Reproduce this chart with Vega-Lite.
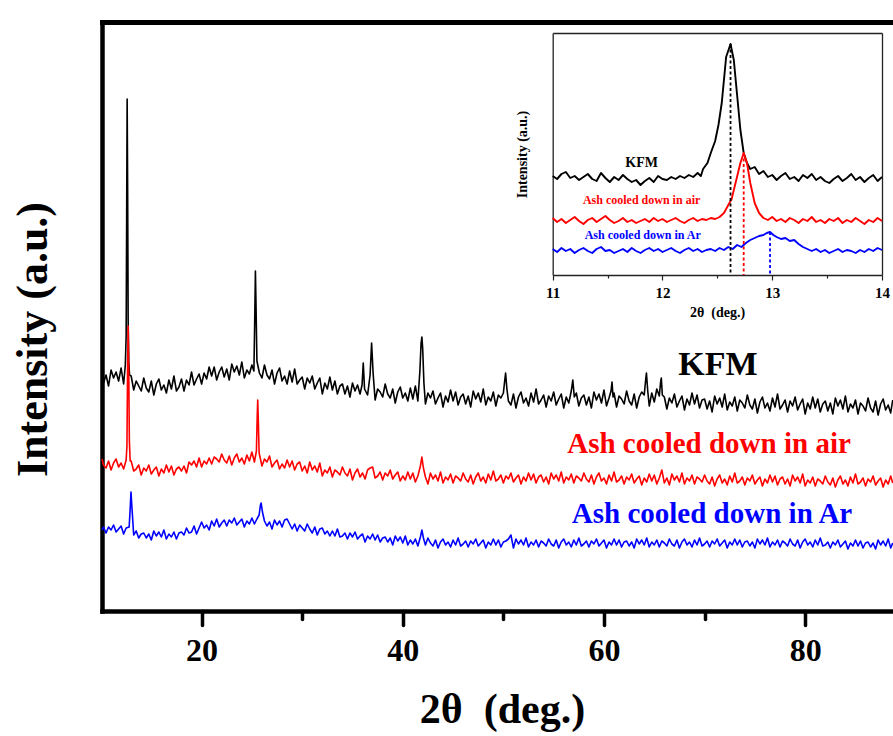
{
  "$schema": "https://vega.github.io/schema/vega-lite/v6.json",
  "width": 791,
  "height": 589,
  "autosize": {"type": "none"},
  "padding": {"left": 102, "top": 22, "right": 0, "bottom": 125},
  "background": "white",
  "config": {
    "view": {"stroke": null},
    "font": "Liberation Serif",
    "axis": {"labelFont": "Liberation Serif", "titleFont": "Liberation Serif", "grid": false},
    "text": {"font": "Liberation Serif"}
  },
  "datasets": {
    "xrd": [
      {"s":"K","x":10.1,"y":238},{"s":"K","x":10.25,"y":228},{"s":"K","x":10.5,"y":236},{"s":"K","x":10.75,"y":225},{"s":"K","x":11.0,"y":241},{"s":"K","x":11.25,"y":233},{"s":"K","x":11.5,"y":239},{"s":"K","x":11.75,"y":230},{"s":"K","x":12.0,"y":243},{"s":"K","x":12.25,"y":227},{"s":"K","x":12.42,"y":246},{"s":"K","x":12.5,"y":275},{"s":"K","x":12.55,"y":390},{"s":"K","x":12.6,"y":512},{"s":"K","x":12.65,"y":420},{"s":"K","x":12.7,"y":290},{"s":"K","x":12.76,"y":250},{"s":"K","x":12.84,"y":236},{"s":"K","x":13.0,"y":235},{"s":"K","x":13.25,"y":221},{"s":"K","x":13.5,"y":230},{"s":"K","x":13.75,"y":225},{"s":"K","x":14.0,"y":220},{"s":"K","x":14.25,"y":233},{"s":"K","x":14.5,"y":223},{"s":"K","x":14.75,"y":219},{"s":"K","x":15.0,"y":230},{"s":"K","x":15.25,"y":216},{"s":"K","x":15.5,"y":227},{"s":"K","x":15.75,"y":232},{"s":"K","x":16.0,"y":221},{"s":"K","x":16.25,"y":226},{"s":"K","x":16.5,"y":218},{"s":"K","x":16.75,"y":231},{"s":"K","x":17.0,"y":222},{"s":"K","x":17.25,"y":235},{"s":"K","x":17.5,"y":220},{"s":"K","x":17.75,"y":224},{"s":"K","x":18.0,"y":232},{"s":"K","x":18.25,"y":220},{"s":"K","x":18.5,"y":231},{"s":"K","x":18.75,"y":226},{"s":"K","x":19.0,"y":239},{"s":"K","x":19.25,"y":226},{"s":"K","x":19.5,"y":232},{"s":"K","x":19.75,"y":237},{"s":"K","x":20.0,"y":227},{"s":"K","x":20.25,"y":238},{"s":"K","x":20.5,"y":232},{"s":"K","x":20.75,"y":244},{"s":"K","x":21.0,"y":235},{"s":"K","x":21.25,"y":244},{"s":"K","x":21.5,"y":231},{"s":"K","x":21.75,"y":239},{"s":"K","x":22.0,"y":244},{"s":"K","x":22.25,"y":234},{"s":"K","x":22.5,"y":242},{"s":"K","x":22.75,"y":231},{"s":"K","x":23.0,"y":247},{"s":"K","x":23.25,"y":239},{"s":"K","x":23.5,"y":245},{"s":"K","x":23.75,"y":236},{"s":"K","x":24.0,"y":249},{"s":"K","x":24.25,"y":233},{"s":"K","x":24.5,"y":241},{"s":"K","x":24.75,"y":237},{"s":"K","x":25.0,"y":246},{"s":"K","x":25.2,"y":240},{"s":"K","x":25.28,"y":290},{"s":"K","x":25.35,"y":340},{"s":"K","x":25.42,"y":300},{"s":"K","x":25.5,"y":250},{"s":"K","x":25.75,"y":238},{"s":"K","x":26.0,"y":233},{"s":"K","x":26.25,"y":246},{"s":"K","x":26.5,"y":236},{"s":"K","x":26.75,"y":232},{"s":"K","x":27.0,"y":241},{"s":"K","x":27.25,"y":227},{"s":"K","x":27.5,"y":238},{"s":"K","x":27.75,"y":243},{"s":"K","x":28.0,"y":230},{"s":"K","x":28.25,"y":235},{"s":"K","x":28.5,"y":227},{"s":"K","x":28.75,"y":240},{"s":"K","x":29.0,"y":229},{"s":"K","x":29.25,"y":242},{"s":"K","x":29.5,"y":227},{"s":"K","x":29.75,"y":231},{"s":"K","x":30.0,"y":234},{"s":"K","x":30.25,"y":222},{"s":"K","x":30.5,"y":233},{"s":"K","x":30.75,"y":228},{"s":"K","x":31.0,"y":235},{"s":"K","x":31.25,"y":222},{"s":"K","x":31.5,"y":228},{"s":"K","x":31.75,"y":233},{"s":"K","x":32.0,"y":217},{"s":"K","x":32.25,"y":228},{"s":"K","x":32.5,"y":222},{"s":"K","x":32.75,"y":234},{"s":"K","x":33.0,"y":221},{"s":"K","x":33.25,"y":230},{"s":"K","x":33.5,"y":217},{"s":"K","x":33.75,"y":225},{"s":"K","x":34.0,"y":227},{"s":"K","x":34.25,"y":217},{"s":"K","x":34.5,"y":225},{"s":"K","x":34.75,"y":214},{"s":"K","x":35.0,"y":228},{"s":"K","x":35.25,"y":220},{"s":"K","x":35.5,"y":226},{"s":"K","x":35.75,"y":217},{"s":"K","x":35.95,"y":226},{"s":"K","x":36.07,"y":248},{"s":"K","x":36.2,"y":222},{"s":"K","x":36.5,"y":216},{"s":"K","x":36.75,"y":236},{"s":"K","x":36.9,"y":268},{"s":"K","x":37.05,"y":238},{"s":"K","x":37.25,"y":211},{"s":"K","x":37.5,"y":222},{"s":"K","x":37.75,"y":219},{"s":"K","x":38.0,"y":214},{"s":"K","x":38.25,"y":227},{"s":"K","x":38.5,"y":217},{"s":"K","x":38.75,"y":213},{"s":"K","x":39.0,"y":222},{"s":"K","x":39.25,"y":208},{"s":"K","x":39.5,"y":219},{"s":"K","x":39.75,"y":224},{"s":"K","x":40.0,"y":213},{"s":"K","x":40.25,"y":218},{"s":"K","x":40.5,"y":210},{"s":"K","x":40.75,"y":223},{"s":"K","x":41.0,"y":212},{"s":"K","x":41.25,"y":225},{"s":"K","x":41.5,"y":210},{"s":"K","x":41.7,"y":240},{"s":"K","x":41.82,"y":268},{"s":"K","x":41.9,"y":274},{"s":"K","x":41.98,"y":262},{"s":"K","x":42.1,"y":228},{"s":"K","x":42.25,"y":207},{"s":"K","x":42.5,"y":218},{"s":"K","x":42.75,"y":213},{"s":"K","x":43.0,"y":220},{"s":"K","x":43.25,"y":207},{"s":"K","x":43.5,"y":213},{"s":"K","x":43.75,"y":218},{"s":"K","x":44.0,"y":204},{"s":"K","x":44.25,"y":215},{"s":"K","x":44.5,"y":209},{"s":"K","x":44.75,"y":221},{"s":"K","x":45.0,"y":210},{"s":"K","x":45.25,"y":219},{"s":"K","x":45.5,"y":206},{"s":"K","x":45.75,"y":214},{"s":"K","x":46.0,"y":217},{"s":"K","x":46.25,"y":207},{"s":"K","x":46.5,"y":215},{"s":"K","x":46.75,"y":204},{"s":"K","x":47.0,"y":220},{"s":"K","x":47.25,"y":212},{"s":"K","x":47.5,"y":218},{"s":"K","x":47.75,"y":209},{"s":"K","x":48.0,"y":222},{"s":"K","x":48.25,"y":206},{"s":"K","x":48.5,"y":214},{"s":"K","x":48.75,"y":210},{"s":"K","x":49.0,"y":219},{"s":"K","x":49.25,"y":205},{"s":"K","x":49.5,"y":216},{"s":"K","x":49.75,"y":213},{"s":"K","x":50.0,"y":218},{"s":"K","x":50.15,"y":232},{"s":"K","x":50.22,"y":238},{"s":"K","x":50.35,"y":222},{"s":"K","x":50.5,"y":210},{"s":"K","x":50.75,"y":206},{"s":"K","x":51.0,"y":217},{"s":"K","x":51.25,"y":203},{"s":"K","x":51.5,"y":214},{"s":"K","x":51.75,"y":219},{"s":"K","x":52.0,"y":208},{"s":"K","x":52.25,"y":213},{"s":"K","x":52.5,"y":205},{"s":"K","x":52.75,"y":218},{"s":"K","x":53.0,"y":209},{"s":"K","x":53.25,"y":222},{"s":"K","x":53.5,"y":207},{"s":"K","x":53.75,"y":211},{"s":"K","x":54.0,"y":216},{"s":"K","x":54.25,"y":204},{"s":"K","x":54.5,"y":215},{"s":"K","x":54.75,"y":210},{"s":"K","x":55.0,"y":219},{"s":"K","x":55.25,"y":206},{"s":"K","x":55.5,"y":212},{"s":"K","x":55.75,"y":217},{"s":"K","x":56.0,"y":203},{"s":"K","x":56.25,"y":214},{"s":"K","x":56.5,"y":208},{"s":"K","x":56.75,"y":220},{"s":"K","x":56.9,"y":231},{"s":"K","x":57.05,"y":214},{"s":"K","x":57.25,"y":218},{"s":"K","x":57.5,"y":205},{"s":"K","x":57.75,"y":213},{"s":"K","x":58.0,"y":216},{"s":"K","x":58.25,"y":206},{"s":"K","x":58.5,"y":214},{"s":"K","x":58.75,"y":203},{"s":"K","x":59.0,"y":219},{"s":"K","x":59.25,"y":211},{"s":"K","x":59.5,"y":217},{"s":"K","x":59.75,"y":208},{"s":"K","x":60.0,"y":221},{"s":"K","x":60.25,"y":205},{"s":"K","x":60.5,"y":213},{"s":"K","x":60.7,"y":220},{"s":"K","x":60.8,"y":229},{"s":"K","x":60.9,"y":214},{"s":"K","x":61.0,"y":218},{"s":"K","x":61.25,"y":204},{"s":"K","x":61.5,"y":215},{"s":"K","x":61.75,"y":212},{"s":"K","x":62.0,"y":207},{"s":"K","x":62.25,"y":220},{"s":"K","x":62.5,"y":210},{"s":"K","x":62.75,"y":206},{"s":"K","x":63.0,"y":217},{"s":"K","x":63.25,"y":203},{"s":"K","x":63.5,"y":214},{"s":"K","x":63.75,"y":219},{"s":"K","x":64.0,"y":216},{"s":"K","x":64.15,"y":232},{"s":"K","x":64.22,"y":238},{"s":"K","x":64.35,"y":220},{"s":"K","x":64.5,"y":205},{"s":"K","x":64.75,"y":218},{"s":"K","x":65.0,"y":209},{"s":"K","x":65.25,"y":222},{"s":"K","x":65.5,"y":215},{"s":"K","x":65.62,"y":228},{"s":"K","x":65.7,"y":233},{"s":"K","x":65.8,"y":216},{"s":"K","x":66.0,"y":214},{"s":"K","x":66.25,"y":202},{"s":"K","x":66.5,"y":213},{"s":"K","x":66.75,"y":208},{"s":"K","x":67.0,"y":217},{"s":"K","x":67.25,"y":204},{"s":"K","x":67.5,"y":210},{"s":"K","x":67.75,"y":215},{"s":"K","x":68.0,"y":201},{"s":"K","x":68.25,"y":212},{"s":"K","x":68.5,"y":206},{"s":"K","x":68.75,"y":218},{"s":"K","x":69.0,"y":207},{"s":"K","x":69.25,"y":216},{"s":"K","x":69.5,"y":203},{"s":"K","x":69.75,"y":211},{"s":"K","x":70.0,"y":212},{"s":"K","x":70.25,"y":202},{"s":"K","x":70.5,"y":210},{"s":"K","x":70.75,"y":199},{"s":"K","x":71.0,"y":215},{"s":"K","x":71.25,"y":207},{"s":"K","x":71.5,"y":213},{"s":"K","x":71.75,"y":204},{"s":"K","x":72.0,"y":217},{"s":"K","x":72.25,"y":201},{"s":"K","x":72.5,"y":209},{"s":"K","x":72.75,"y":205},{"s":"K","x":73.0,"y":214},{"s":"K","x":73.25,"y":200},{"s":"K","x":73.5,"y":211},{"s":"K","x":73.75,"y":208},{"s":"K","x":74.0,"y":203},{"s":"K","x":74.25,"y":216},{"s":"K","x":74.5,"y":206},{"s":"K","x":74.75,"y":202},{"s":"K","x":75.0,"y":212},{"s":"K","x":75.25,"y":198},{"s":"K","x":75.5,"y":209},{"s":"K","x":75.75,"y":214},{"s":"K","x":76.0,"y":203},{"s":"K","x":76.25,"y":208},{"s":"K","x":76.5,"y":200},{"s":"K","x":76.75,"y":213},{"s":"K","x":77.0,"y":204},{"s":"K","x":77.25,"y":217},{"s":"K","x":77.5,"y":202},{"s":"K","x":77.75,"y":206},{"s":"K","x":78.0,"y":211},{"s":"K","x":78.25,"y":199},{"s":"K","x":78.5,"y":210},{"s":"K","x":78.75,"y":205},{"s":"K","x":79.0,"y":214},{"s":"K","x":79.25,"y":201},{"s":"K","x":79.5,"y":207},{"s":"K","x":79.75,"y":212},{"s":"K","x":80.0,"y":197},{"s":"K","x":80.25,"y":208},{"s":"K","x":80.5,"y":202},{"s":"K","x":80.75,"y":214},{"s":"K","x":81.0,"y":203},{"s":"K","x":81.25,"y":212},{"s":"K","x":81.5,"y":199},{"s":"K","x":81.75,"y":207},{"s":"K","x":82.0,"y":210},{"s":"K","x":82.25,"y":200},{"s":"K","x":82.5,"y":208},{"s":"K","x":82.75,"y":197},{"s":"K","x":83.0,"y":213},{"s":"K","x":83.25,"y":205},{"s":"K","x":83.5,"y":211},{"s":"K","x":83.75,"y":202},{"s":"K","x":84.0,"y":215},{"s":"K","x":84.25,"y":199},{"s":"K","x":84.5,"y":207},{"s":"K","x":84.75,"y":203},{"s":"K","x":85.0,"y":211},{"s":"K","x":85.25,"y":197},{"s":"K","x":85.5,"y":208},{"s":"K","x":85.75,"y":205},{"s":"K","x":86.0,"y":200},{"s":"K","x":86.25,"y":213},{"s":"K","x":86.5,"y":203},{"s":"K","x":86.75,"y":199},{"s":"K","x":87.0,"y":210},{"s":"K","x":87.25,"y":196},{"s":"K","x":87.5,"y":207},{"s":"K","x":87.75,"y":212},{"s":"K","x":88.0,"y":201},{"s":"K","x":88.25,"y":206},{"s":"K","x":88.5,"y":198},{"s":"K","x":88.7,"y":211},

      {"s":"air","x":10.1,"y":152},{"s":"air","x":10.25,"y":146},{"s":"air","x":10.5,"y":143},{"s":"air","x":10.75,"y":150},{"s":"air","x":11.0,"y":141},{"s":"air","x":11.25,"y":148},{"s":"air","x":11.5,"y":152},{"s":"air","x":11.75,"y":144},{"s":"air","x":12.0,"y":148},{"s":"air","x":12.25,"y":142},{"s":"air","x":12.5,"y":151},{"s":"air","x":12.58,"y":165},{"s":"air","x":12.64,"y":240},{"s":"air","x":12.7,"y":285},{"s":"air","x":12.76,"y":240},{"s":"air","x":12.82,"y":170},{"s":"air","x":12.9,"y":150},{"s":"air","x":13.0,"y":150},{"s":"air","x":13.25,"y":140},{"s":"air","x":13.5,"y":142},{"s":"air","x":13.75,"y":146},{"s":"air","x":14.0,"y":136},{"s":"air","x":14.25,"y":143},{"s":"air","x":14.5,"y":140},{"s":"air","x":14.75,"y":146},{"s":"air","x":15.0,"y":137},{"s":"air","x":15.25,"y":141},{"s":"air","x":15.5,"y":144},{"s":"air","x":15.75,"y":135},{"s":"air","x":16.0,"y":142},{"s":"air","x":16.25,"y":138},{"s":"air","x":16.5,"y":146},{"s":"air","x":16.75,"y":139},{"s":"air","x":17.0,"y":145},{"s":"air","x":17.25,"y":136},{"s":"air","x":17.5,"y":142},{"s":"air","x":17.75,"y":144},{"s":"air","x":18.0,"y":140},{"s":"air","x":18.25,"y":145},{"s":"air","x":18.5,"y":138},{"s":"air","x":18.75,"y":149},{"s":"air","x":19.0,"y":146},{"s":"air","x":19.25,"y":150},{"s":"air","x":19.5,"y":144},{"s":"air","x":19.75,"y":153},{"s":"air","x":20.0,"y":144},{"s":"air","x":20.25,"y":150},{"s":"air","x":20.5,"y":147},{"s":"air","x":20.75,"y":153},{"s":"air","x":21.0,"y":147},{"s":"air","x":21.25,"y":154},{"s":"air","x":21.5,"y":152},{"s":"air","x":21.75,"y":149},{"s":"air","x":22.0,"y":157},{"s":"air","x":22.25,"y":151},{"s":"air","x":22.5,"y":148},{"s":"air","x":22.75,"y":155},{"s":"air","x":23.0,"y":146},{"s":"air","x":23.25,"y":153},{"s":"air","x":23.5,"y":157},{"s":"air","x":23.75,"y":149},{"s":"air","x":24.0,"y":153},{"s":"air","x":24.25,"y":147},{"s":"air","x":24.5,"y":156},{"s":"air","x":24.75,"y":150},{"s":"air","x":25.0,"y":159},{"s":"air","x":25.25,"y":149},{"s":"air","x":25.45,"y":160},{"s":"air","x":25.53,"y":195},{"s":"air","x":25.58,"y":211},{"s":"air","x":25.64,"y":190},{"s":"air","x":25.72,"y":158},{"s":"air","x":26.0,"y":145},{"s":"air","x":26.25,"y":152},{"s":"air","x":26.5,"y":149},{"s":"air","x":26.75,"y":155},{"s":"air","x":27.0,"y":144},{"s":"air","x":27.25,"y":148},{"s":"air","x":27.5,"y":151},{"s":"air","x":27.75,"y":142},{"s":"air","x":28.0,"y":147},{"s":"air","x":28.25,"y":143},{"s":"air","x":28.5,"y":151},{"s":"air","x":28.75,"y":144},{"s":"air","x":29.0,"y":150},{"s":"air","x":29.25,"y":141},{"s":"air","x":29.5,"y":147},{"s":"air","x":29.75,"y":149},{"s":"air","x":30.0,"y":140},{"s":"air","x":30.25,"y":145},{"s":"air","x":30.5,"y":138},{"s":"air","x":30.75,"y":149},{"s":"air","x":31.0,"y":141},{"s":"air","x":31.25,"y":145},{"s":"air","x":31.5,"y":139},{"s":"air","x":31.75,"y":148},{"s":"air","x":32.0,"y":135},{"s":"air","x":32.25,"y":141},{"s":"air","x":32.5,"y":138},{"s":"air","x":32.75,"y":144},{"s":"air","x":33.0,"y":134},{"s":"air","x":33.25,"y":141},{"s":"air","x":33.5,"y":139},{"s":"air","x":33.75,"y":136},{"s":"air","x":34.0,"y":144},{"s":"air","x":34.25,"y":138},{"s":"air","x":34.5,"y":135},{"s":"air","x":34.75,"y":142},{"s":"air","x":35.0,"y":131},{"s":"air","x":35.25,"y":138},{"s":"air","x":35.5,"y":142},{"s":"air","x":35.75,"y":134},{"s":"air","x":36.0,"y":138},{"s":"air","x":36.25,"y":132},{"s":"air","x":36.5,"y":141},{"s":"air","x":36.75,"y":143},{"s":"air","x":37.0,"y":144},{"s":"air","x":37.25,"y":133},{"s":"air","x":37.5,"y":135},{"s":"air","x":37.75,"y":139},{"s":"air","x":38.0,"y":131},{"s":"air","x":38.25,"y":138},{"s":"air","x":38.5,"y":135},{"s":"air","x":38.75,"y":141},{"s":"air","x":39.0,"y":132},{"s":"air","x":39.25,"y":136},{"s":"air","x":39.5,"y":139},{"s":"air","x":39.75,"y":130},{"s":"air","x":40.0,"y":135},{"s":"air","x":40.25,"y":131},{"s":"air","x":40.5,"y":139},{"s":"air","x":40.75,"y":132},{"s":"air","x":41.0,"y":138},{"s":"air","x":41.25,"y":129},{"s":"air","x":41.5,"y":135},{"s":"air","x":41.75,"y":145},{"s":"air","x":41.9,"y":154},{"s":"air","x":42.05,"y":143},{"s":"air","x":42.25,"y":134},{"s":"air","x":42.5,"y":127},{"s":"air","x":42.75,"y":138},{"s":"air","x":43.0,"y":132},{"s":"air","x":43.25,"y":136},{"s":"air","x":43.5,"y":130},{"s":"air","x":43.75,"y":139},{"s":"air","x":44.0,"y":128},{"s":"air","x":44.25,"y":134},{"s":"air","x":44.5,"y":131},{"s":"air","x":44.75,"y":137},{"s":"air","x":45.0,"y":128},{"s":"air","x":45.25,"y":135},{"s":"air","x":45.5,"y":133},{"s":"air","x":45.75,"y":130},{"s":"air","x":46.0,"y":138},{"s":"air","x":46.25,"y":132},{"s":"air","x":46.5,"y":129},{"s":"air","x":46.75,"y":136},{"s":"air","x":47.0,"y":127},{"s":"air","x":47.25,"y":134},{"s":"air","x":47.5,"y":138},{"s":"air","x":47.75,"y":130},{"s":"air","x":48.0,"y":134},{"s":"air","x":48.25,"y":128},{"s":"air","x":48.5,"y":137},{"s":"air","x":48.75,"y":131},{"s":"air","x":49.0,"y":140},{"s":"air","x":49.25,"y":130},{"s":"air","x":49.5,"y":132},{"s":"air","x":49.75,"y":136},{"s":"air","x":50.0,"y":128},{"s":"air","x":50.25,"y":135},{"s":"air","x":50.5,"y":132},{"s":"air","x":50.75,"y":138},{"s":"air","x":51.0,"y":129},{"s":"air","x":51.25,"y":133},{"s":"air","x":51.5,"y":136},{"s":"air","x":51.75,"y":127},{"s":"air","x":52.0,"y":134},{"s":"air","x":52.25,"y":130},{"s":"air","x":52.5,"y":138},{"s":"air","x":52.75,"y":131},{"s":"air","x":53.0,"y":137},{"s":"air","x":53.25,"y":128},{"s":"air","x":53.5,"y":134},{"s":"air","x":53.75,"y":136},{"s":"air","x":54.0,"y":129},{"s":"air","x":54.25,"y":134},{"s":"air","x":54.5,"y":127},{"s":"air","x":54.75,"y":138},{"s":"air","x":55.0,"y":132},{"s":"air","x":55.25,"y":136},{"s":"air","x":55.5,"y":130},{"s":"air","x":55.75,"y":139},{"s":"air","x":56.0,"y":128},{"s":"air","x":56.25,"y":134},{"s":"air","x":56.5,"y":131},{"s":"air","x":56.75,"y":137},{"s":"air","x":57.0,"y":128},{"s":"air","x":57.25,"y":135},{"s":"air","x":57.5,"y":133},{"s":"air","x":57.75,"y":130},{"s":"air","x":58.0,"y":138},{"s":"air","x":58.25,"y":132},{"s":"air","x":58.5,"y":129},{"s":"air","x":58.75,"y":136},{"s":"air","x":59.0,"y":127},{"s":"air","x":59.25,"y":134},{"s":"air","x":59.5,"y":138},{"s":"air","x":59.75,"y":130},{"s":"air","x":60.0,"y":133},{"s":"air","x":60.25,"y":127},{"s":"air","x":60.5,"y":136},{"s":"air","x":60.75,"y":130},{"s":"air","x":61.0,"y":139},{"s":"air","x":61.25,"y":129},{"s":"air","x":61.5,"y":131},{"s":"air","x":61.75,"y":135},{"s":"air","x":62.0,"y":127},{"s":"air","x":62.25,"y":134},{"s":"air","x":62.5,"y":131},{"s":"air","x":62.75,"y":137},{"s":"air","x":63.0,"y":128},{"s":"air","x":63.25,"y":132},{"s":"air","x":63.5,"y":135},{"s":"air","x":63.75,"y":126},{"s":"air","x":64.0,"y":133},{"s":"air","x":64.25,"y":129},{"s":"air","x":64.5,"y":137},{"s":"air","x":64.75,"y":130},{"s":"air","x":65.0,"y":136},{"s":"air","x":65.25,"y":127},{"s":"air","x":65.5,"y":133},{"s":"air","x":65.75,"y":141},{"s":"air","x":66.0,"y":128},{"s":"air","x":66.25,"y":133},{"s":"air","x":66.5,"y":126},{"s":"air","x":66.75,"y":137},{"s":"air","x":67.0,"y":131},{"s":"air","x":67.25,"y":135},{"s":"air","x":67.5,"y":129},{"s":"air","x":67.75,"y":138},{"s":"air","x":68.0,"y":127},{"s":"air","x":68.25,"y":133},{"s":"air","x":68.5,"y":130},{"s":"air","x":68.75,"y":136},{"s":"air","x":69.0,"y":127},{"s":"air","x":69.25,"y":134},{"s":"air","x":69.5,"y":132},{"s":"air","x":69.75,"y":129},{"s":"air","x":70.0,"y":136},{"s":"air","x":70.25,"y":130},{"s":"air","x":70.5,"y":127},{"s":"air","x":70.75,"y":134},{"s":"air","x":71.0,"y":125},{"s":"air","x":71.25,"y":132},{"s":"air","x":71.5,"y":136},{"s":"air","x":71.75,"y":128},{"s":"air","x":72.0,"y":132},{"s":"air","x":72.25,"y":126},{"s":"air","x":72.5,"y":135},{"s":"air","x":72.75,"y":129},{"s":"air","x":73.0,"y":138},{"s":"air","x":73.25,"y":128},{"s":"air","x":73.5,"y":130},{"s":"air","x":73.75,"y":134},{"s":"air","x":74.0,"y":126},{"s":"air","x":74.25,"y":133},{"s":"air","x":74.5,"y":130},{"s":"air","x":74.75,"y":136},{"s":"air","x":75.0,"y":127},{"s":"air","x":75.25,"y":131},{"s":"air","x":75.5,"y":134},{"s":"air","x":75.75,"y":125},{"s":"air","x":76.0,"y":132},{"s":"air","x":76.25,"y":128},{"s":"air","x":76.5,"y":136},{"s":"air","x":76.75,"y":129},{"s":"air","x":77.0,"y":135},{"s":"air","x":77.25,"y":126},{"s":"air","x":77.5,"y":132},{"s":"air","x":77.75,"y":134},{"s":"air","x":78.0,"y":127},{"s":"air","x":78.25,"y":132},{"s":"air","x":78.5,"y":125},{"s":"air","x":78.75,"y":136},{"s":"air","x":79.0,"y":130},{"s":"air","x":79.25,"y":134},{"s":"air","x":79.5,"y":128},{"s":"air","x":79.75,"y":137},{"s":"air","x":80.0,"y":125},{"s":"air","x":80.25,"y":131},{"s":"air","x":80.5,"y":128},{"s":"air","x":80.75,"y":134},{"s":"air","x":81.0,"y":125},{"s":"air","x":81.25,"y":132},{"s":"air","x":81.5,"y":130},{"s":"air","x":81.75,"y":127},{"s":"air","x":82.0,"y":135},{"s":"air","x":82.25,"y":129},{"s":"air","x":82.5,"y":126},{"s":"air","x":82.75,"y":133},{"s":"air","x":83.0,"y":124},{"s":"air","x":83.25,"y":131},{"s":"air","x":83.5,"y":135},{"s":"air","x":83.75,"y":127},{"s":"air","x":84.0,"y":131},{"s":"air","x":84.25,"y":125},{"s":"air","x":84.5,"y":134},{"s":"air","x":84.75,"y":128},{"s":"air","x":85.0,"y":137},{"s":"air","x":85.25,"y":127},{"s":"air","x":85.5,"y":129},{"s":"air","x":85.75,"y":133},{"s":"air","x":86.0,"y":125},{"s":"air","x":86.25,"y":132},{"s":"air","x":86.5,"y":129},{"s":"air","x":86.75,"y":135},{"s":"air","x":87.0,"y":126},{"s":"air","x":87.25,"y":130},{"s":"air","x":87.5,"y":133},{"s":"air","x":87.75,"y":124},{"s":"air","x":88.0,"y":131},{"s":"air","x":88.25,"y":127},{"s":"air","x":88.5,"y":135},{"s":"air","x":88.7,"y":128},

      {"s":"Ar","x":10.1,"y":81},{"s":"Ar","x":10.25,"y":84},{"s":"Ar","x":10.5,"y":78},{"s":"Ar","x":10.75,"y":84},{"s":"Ar","x":11.0,"y":81},{"s":"Ar","x":11.25,"y":86},{"s":"Ar","x":11.5,"y":79},{"s":"Ar","x":11.75,"y":82},{"s":"Ar","x":12.0,"y":85},{"s":"Ar","x":12.25,"y":77},{"s":"Ar","x":12.5,"y":83},{"s":"Ar","x":12.8,"y":84},{"s":"Ar","x":12.9,"y":102},{"s":"Ar","x":12.98,"y":119},{"s":"Ar","x":13.06,"y":106},{"s":"Ar","x":13.15,"y":92},{"s":"Ar","x":13.25,"y":76},{"s":"Ar","x":13.5,"y":80},{"s":"Ar","x":13.75,"y":73},{"s":"Ar","x":14.0,"y":77},{"s":"Ar","x":14.25,"y":78},{"s":"Ar","x":14.5,"y":73},{"s":"Ar","x":14.75,"y":77},{"s":"Ar","x":15.0,"y":71},{"s":"Ar","x":15.25,"y":80},{"s":"Ar","x":15.5,"y":75},{"s":"Ar","x":15.75,"y":79},{"s":"Ar","x":16.0,"y":74},{"s":"Ar","x":16.25,"y":81},{"s":"Ar","x":16.5,"y":72},{"s":"Ar","x":16.75,"y":77},{"s":"Ar","x":17.0,"y":74},{"s":"Ar","x":17.25,"y":79},{"s":"Ar","x":17.5,"y":72},{"s":"Ar","x":17.75,"y":78},{"s":"Ar","x":18.0,"y":79},{"s":"Ar","x":18.25,"y":76},{"s":"Ar","x":18.5,"y":83},{"s":"Ar","x":18.75,"y":78},{"s":"Ar","x":19.0,"y":79},{"s":"Ar","x":19.25,"y":85},{"s":"Ar","x":19.5,"y":77},{"s":"Ar","x":19.75,"y":83},{"s":"Ar","x":20.0,"y":89},{"s":"Ar","x":20.25,"y":83},{"s":"Ar","x":20.5,"y":86},{"s":"Ar","x":20.75,"y":81},{"s":"Ar","x":21.0,"y":90},{"s":"Ar","x":21.25,"y":85},{"s":"Ar","x":21.5,"y":92},{"s":"Ar","x":21.75,"y":84},{"s":"Ar","x":22.0,"y":88},{"s":"Ar","x":22.25,"y":91},{"s":"Ar","x":22.5,"y":85},{"s":"Ar","x":22.75,"y":91},{"s":"Ar","x":23.0,"y":88},{"s":"Ar","x":23.25,"y":93},{"s":"Ar","x":23.5,"y":86},{"s":"Ar","x":23.75,"y":89},{"s":"Ar","x":24.0,"y":92},{"s":"Ar","x":24.25,"y":84},{"s":"Ar","x":24.5,"y":90},{"s":"Ar","x":24.75,"y":87},{"s":"Ar","x":25.0,"y":93},{"s":"Ar","x":25.25,"y":87},{"s":"Ar","x":25.5,"y":92},{"s":"Ar","x":25.72,"y":96},{"s":"Ar","x":25.85,"y":106},{"s":"Ar","x":25.92,"y":108},{"s":"Ar","x":26.05,"y":99},{"s":"Ar","x":26.25,"y":90},{"s":"Ar","x":26.5,"y":85},{"s":"Ar","x":26.75,"y":89},{"s":"Ar","x":27.0,"y":82},{"s":"Ar","x":27.25,"y":91},{"s":"Ar","x":27.5,"y":86},{"s":"Ar","x":27.75,"y":90},{"s":"Ar","x":28.0,"y":84},{"s":"Ar","x":28.25,"y":91},{"s":"Ar","x":28.5,"y":92},{"s":"Ar","x":28.75,"y":87},{"s":"Ar","x":29.0,"y":82},{"s":"Ar","x":29.25,"y":87},{"s":"Ar","x":29.5,"y":80},{"s":"Ar","x":29.75,"y":86},{"s":"Ar","x":30.0,"y":83},{"s":"Ar","x":30.25,"y":80},{"s":"Ar","x":30.5,"y":87},{"s":"Ar","x":30.75,"y":82},{"s":"Ar","x":31.0,"y":78},{"s":"Ar","x":31.25,"y":84},{"s":"Ar","x":31.5,"y":76},{"s":"Ar","x":31.75,"y":82},{"s":"Ar","x":32.0,"y":83},{"s":"Ar","x":32.25,"y":77},{"s":"Ar","x":32.5,"y":80},{"s":"Ar","x":32.75,"y":75},{"s":"Ar","x":33.0,"y":80},{"s":"Ar","x":33.25,"y":75},{"s":"Ar","x":33.5,"y":82},{"s":"Ar","x":33.75,"y":74},{"s":"Ar","x":34.0,"y":75},{"s":"Ar","x":34.25,"y":78},{"s":"Ar","x":34.5,"y":72},{"s":"Ar","x":34.75,"y":78},{"s":"Ar","x":35.0,"y":74},{"s":"Ar","x":35.25,"y":79},{"s":"Ar","x":35.5,"y":72},{"s":"Ar","x":35.75,"y":75},{"s":"Ar","x":36.0,"y":77},{"s":"Ar","x":36.25,"y":69},{"s":"Ar","x":36.5,"y":75},{"s":"Ar","x":36.75,"y":72},{"s":"Ar","x":37.0,"y":77},{"s":"Ar","x":37.25,"y":71},{"s":"Ar","x":37.5,"y":76},{"s":"Ar","x":37.75,"y":69},{"s":"Ar","x":38.0,"y":73},{"s":"Ar","x":38.25,"y":74},{"s":"Ar","x":38.5,"y":69},{"s":"Ar","x":38.75,"y":73},{"s":"Ar","x":39.0,"y":66},{"s":"Ar","x":39.25,"y":75},{"s":"Ar","x":39.5,"y":70},{"s":"Ar","x":39.75,"y":74},{"s":"Ar","x":40.0,"y":68},{"s":"Ar","x":40.25,"y":75},{"s":"Ar","x":40.5,"y":66},{"s":"Ar","x":40.75,"y":71},{"s":"Ar","x":41.0,"y":67},{"s":"Ar","x":41.25,"y":72},{"s":"Ar","x":41.5,"y":65},{"s":"Ar","x":41.75,"y":74},{"s":"Ar","x":41.9,"y":81},{"s":"Ar","x":42.05,"y":73},{"s":"Ar","x":42.25,"y":66},{"s":"Ar","x":42.5,"y":73},{"s":"Ar","x":42.75,"y":68},{"s":"Ar","x":43.0,"y":65},{"s":"Ar","x":43.25,"y":71},{"s":"Ar","x":43.5,"y":63},{"s":"Ar","x":43.75,"y":69},{"s":"Ar","x":44.0,"y":72},{"s":"Ar","x":44.25,"y":66},{"s":"Ar","x":44.5,"y":69},{"s":"Ar","x":44.75,"y":64},{"s":"Ar","x":45.0,"y":71},{"s":"Ar","x":45.25,"y":66},{"s":"Ar","x":45.5,"y":73},{"s":"Ar","x":45.75,"y":65},{"s":"Ar","x":46.0,"y":67},{"s":"Ar","x":46.25,"y":70},{"s":"Ar","x":46.5,"y":64},{"s":"Ar","x":46.75,"y":70},{"s":"Ar","x":47.0,"y":67},{"s":"Ar","x":47.25,"y":72},{"s":"Ar","x":47.5,"y":65},{"s":"Ar","x":47.75,"y":68},{"s":"Ar","x":48.0,"y":71},{"s":"Ar","x":48.25,"y":63},{"s":"Ar","x":48.5,"y":69},{"s":"Ar","x":48.75,"y":66},{"s":"Ar","x":49.0,"y":72},{"s":"Ar","x":49.25,"y":66},{"s":"Ar","x":49.5,"y":71},{"s":"Ar","x":49.75,"y":64},{"s":"Ar","x":50.0,"y":69},{"s":"Ar","x":50.25,"y":70},{"s":"Ar","x":50.5,"y":72},{"s":"Ar","x":50.75,"y":76},{"s":"Ar","x":51.0,"y":63},{"s":"Ar","x":51.25,"y":72},{"s":"Ar","x":51.5,"y":67},{"s":"Ar","x":51.75,"y":71},{"s":"Ar","x":52.0,"y":66},{"s":"Ar","x":52.25,"y":73},{"s":"Ar","x":52.5,"y":64},{"s":"Ar","x":52.75,"y":69},{"s":"Ar","x":53.0,"y":66},{"s":"Ar","x":53.25,"y":71},{"s":"Ar","x":53.5,"y":64},{"s":"Ar","x":53.75,"y":70},{"s":"Ar","x":54.0,"y":68},{"s":"Ar","x":54.25,"y":65},{"s":"Ar","x":54.5,"y":72},{"s":"Ar","x":54.75,"y":67},{"s":"Ar","x":55.0,"y":65},{"s":"Ar","x":55.25,"y":71},{"s":"Ar","x":55.5,"y":63},{"s":"Ar","x":55.75,"y":69},{"s":"Ar","x":56.0,"y":72},{"s":"Ar","x":56.25,"y":66},{"s":"Ar","x":56.5,"y":69},{"s":"Ar","x":56.75,"y":64},{"s":"Ar","x":57.0,"y":71},{"s":"Ar","x":57.25,"y":66},{"s":"Ar","x":57.5,"y":73},{"s":"Ar","x":57.75,"y":65},{"s":"Ar","x":58.0,"y":67},{"s":"Ar","x":58.25,"y":70},{"s":"Ar","x":58.5,"y":64},{"s":"Ar","x":58.75,"y":70},{"s":"Ar","x":59.0,"y":67},{"s":"Ar","x":59.25,"y":72},{"s":"Ar","x":59.5,"y":65},{"s":"Ar","x":59.75,"y":68},{"s":"Ar","x":60.0,"y":71},{"s":"Ar","x":60.25,"y":63},{"s":"Ar","x":60.5,"y":69},{"s":"Ar","x":60.75,"y":66},{"s":"Ar","x":61.0,"y":72},{"s":"Ar","x":61.25,"y":66},{"s":"Ar","x":61.5,"y":71},{"s":"Ar","x":61.75,"y":64},{"s":"Ar","x":62.0,"y":69},{"s":"Ar","x":62.25,"y":70},{"s":"Ar","x":62.5,"y":65},{"s":"Ar","x":62.75,"y":69},{"s":"Ar","x":63.0,"y":63},{"s":"Ar","x":63.25,"y":72},{"s":"Ar","x":63.5,"y":67},{"s":"Ar","x":63.75,"y":71},{"s":"Ar","x":64.0,"y":66},{"s":"Ar","x":64.25,"y":73},{"s":"Ar","x":64.5,"y":64},{"s":"Ar","x":64.75,"y":69},{"s":"Ar","x":65.0,"y":66},{"s":"Ar","x":65.25,"y":71},{"s":"Ar","x":65.5,"y":64},{"s":"Ar","x":65.75,"y":70},{"s":"Ar","x":66.0,"y":68},{"s":"Ar","x":66.25,"y":65},{"s":"Ar","x":66.5,"y":72},{"s":"Ar","x":66.75,"y":67},{"s":"Ar","x":67.0,"y":65},{"s":"Ar","x":67.25,"y":71},{"s":"Ar","x":67.5,"y":63},{"s":"Ar","x":67.75,"y":69},{"s":"Ar","x":68.0,"y":72},{"s":"Ar","x":68.25,"y":66},{"s":"Ar","x":68.5,"y":69},{"s":"Ar","x":68.75,"y":64},{"s":"Ar","x":69.0,"y":71},{"s":"Ar","x":69.25,"y":66},{"s":"Ar","x":69.5,"y":73},{"s":"Ar","x":69.75,"y":65},{"s":"Ar","x":70.0,"y":67},{"s":"Ar","x":70.25,"y":70},{"s":"Ar","x":70.5,"y":64},{"s":"Ar","x":70.75,"y":70},{"s":"Ar","x":71.0,"y":67},{"s":"Ar","x":71.25,"y":72},{"s":"Ar","x":71.5,"y":65},{"s":"Ar","x":71.75,"y":68},{"s":"Ar","x":72.0,"y":71},{"s":"Ar","x":72.25,"y":63},{"s":"Ar","x":72.5,"y":69},{"s":"Ar","x":72.75,"y":66},{"s":"Ar","x":73.0,"y":72},{"s":"Ar","x":73.25,"y":66},{"s":"Ar","x":73.5,"y":71},{"s":"Ar","x":73.75,"y":64},{"s":"Ar","x":74.0,"y":69},{"s":"Ar","x":74.25,"y":70},{"s":"Ar","x":74.5,"y":65},{"s":"Ar","x":74.75,"y":69},{"s":"Ar","x":75.0,"y":63},{"s":"Ar","x":75.25,"y":72},{"s":"Ar","x":75.5,"y":67},{"s":"Ar","x":75.75,"y":71},{"s":"Ar","x":76.0,"y":66},{"s":"Ar","x":76.25,"y":73},{"s":"Ar","x":76.5,"y":64},{"s":"Ar","x":76.75,"y":69},{"s":"Ar","x":77.0,"y":66},{"s":"Ar","x":77.25,"y":71},{"s":"Ar","x":77.5,"y":64},{"s":"Ar","x":77.75,"y":70},{"s":"Ar","x":78.0,"y":68},{"s":"Ar","x":78.25,"y":65},{"s":"Ar","x":78.5,"y":72},{"s":"Ar","x":78.75,"y":67},{"s":"Ar","x":79.0,"y":65},{"s":"Ar","x":79.25,"y":71},{"s":"Ar","x":79.5,"y":63},{"s":"Ar","x":79.75,"y":69},{"s":"Ar","x":80.0,"y":72},{"s":"Ar","x":80.25,"y":66},{"s":"Ar","x":80.5,"y":69},{"s":"Ar","x":80.75,"y":64},{"s":"Ar","x":81.0,"y":71},{"s":"Ar","x":81.25,"y":66},{"s":"Ar","x":81.5,"y":73},{"s":"Ar","x":81.75,"y":65},{"s":"Ar","x":82.0,"y":66},{"s":"Ar","x":82.25,"y":69},{"s":"Ar","x":82.5,"y":63},{"s":"Ar","x":82.75,"y":69},{"s":"Ar","x":83.0,"y":66},{"s":"Ar","x":83.25,"y":71},{"s":"Ar","x":83.5,"y":64},{"s":"Ar","x":83.75,"y":67},{"s":"Ar","x":84.0,"y":70},{"s":"Ar","x":84.25,"y":62},{"s":"Ar","x":84.5,"y":68},{"s":"Ar","x":84.75,"y":65},{"s":"Ar","x":85.0,"y":71},{"s":"Ar","x":85.25,"y":65},{"s":"Ar","x":85.5,"y":70},{"s":"Ar","x":85.75,"y":63},{"s":"Ar","x":86.0,"y":68},{"s":"Ar","x":86.25,"y":69},{"s":"Ar","x":86.5,"y":64},{"s":"Ar","x":86.75,"y":68},{"s":"Ar","x":87.0,"y":62},{"s":"Ar","x":87.25,"y":71},{"s":"Ar","x":87.5,"y":66},{"s":"Ar","x":87.75,"y":70},{"s":"Ar","x":88.0,"y":65},{"s":"Ar","x":88.25,"y":72},{"s":"Ar","x":88.5,"y":63},{"s":"Ar","x":88.7,"y":68}
    ],
    "mainLabels": [
      {"label": "KFM", "s": "K", "x": 71.33, "y": 236},
      {"label": "Ash cooled down in air", "s": "air", "x": 70.44, "y": 158},
      {"label": "Ash cooled down in Ar", "s": "Ar", "x": 70.74, "y": 88}
    ],
    "inset": [
      {"s":"K","x":11.00,"y":99},{"s":"K","x":11.04,"y":96},{"s":"K","x":11.08,"y":101},{"s":"K","x":11.12,"y":103},{"s":"K","x":11.16,"y":97},{"s":"K","x":11.20,"y":99},{"s":"K","x":11.24,"y":95},{"s":"K","x":11.28,"y":98},{"s":"K","x":11.32,"y":101},{"s":"K","x":11.36,"y":96},{"s":"K","x":11.40,"y":94},{"s":"K","x":11.44,"y":102},{"s":"K","x":11.48,"y":97},{"s":"K","x":11.52,"y":93},{"s":"K","x":11.56,"y":98},{"s":"K","x":11.60,"y":95},{"s":"K","x":11.64,"y":100},{"s":"K","x":11.68,"y":96},{"s":"K","x":11.72,"y":93},{"s":"K","x":11.76,"y":95},{"s":"K","x":11.80,"y":90},{"s":"K","x":11.84,"y":94},{"s":"K","x":11.88,"y":97},{"s":"K","x":11.92,"y":93},{"s":"K","x":11.96,"y":99},{"s":"K","x":12.00,"y":96},{"s":"K","x":12.04,"y":95},{"s":"K","x":12.08,"y":98},{"s":"K","x":12.12,"y":96},{"s":"K","x":12.16,"y":99},{"s":"K","x":12.20,"y":97},{"s":"K","x":12.24,"y":100},{"s":"K","x":12.28,"y":98},{"s":"K","x":12.32,"y":102},{"s":"K","x":12.35,"y":99},{"s":"K","x":12.37,"y":106},{"s":"K","x":12.41,"y":112},{"s":"K","x":12.44,"y":122},{"s":"K","x":12.48,"y":134},{"s":"K","x":12.51,"y":150},{"s":"K","x":12.54,"y":172},{"s":"K","x":12.58,"y":218},{"s":"K","x":12.62,"y":231},{"s":"K","x":12.65,"y":215},{"s":"K","x":12.68,"y":180},{"s":"K","x":12.71,"y":145},{"s":"K","x":12.74,"y":122},{"s":"K","x":12.77,"y":112},{"s":"K","x":12.80,"y":106},{"s":"K","x":12.84,"y":108},{"s":"K","x":12.88,"y":101},{"s":"K","x":12.92,"y":104},{"s":"K","x":12.96,"y":98},{"s":"K","x":13.00,"y":100},{"s":"K","x":13.04,"y":95},{"s":"K","x":13.08,"y":99},{"s":"K","x":13.12,"y":102},{"s":"K","x":13.16,"y":96},{"s":"K","x":13.20,"y":98},{"s":"K","x":13.24,"y":94},{"s":"K","x":13.28,"y":100},{"s":"K","x":13.32,"y":97},{"s":"K","x":13.36,"y":101},{"s":"K","x":13.40,"y":95},{"s":"K","x":13.44,"y":98},{"s":"K","x":13.48,"y":94},{"s":"K","x":13.52,"y":92},{"s":"K","x":13.56,"y":96},{"s":"K","x":13.60,"y":99},{"s":"K","x":13.64,"y":94},{"s":"K","x":13.68,"y":97},{"s":"K","x":13.72,"y":101},{"s":"K","x":13.76,"y":95},{"s":"K","x":13.80,"y":98},{"s":"K","x":13.84,"y":93},{"s":"K","x":13.88,"y":97},{"s":"K","x":13.92,"y":100},{"s":"K","x":13.96,"y":94},{"s":"K","x":14.00,"y":98},

      {"s":"air","x":11.00,"y":57},{"s":"air","x":11.04,"y":53},{"s":"air","x":11.08,"y":56},{"s":"air","x":11.12,"y":52},{"s":"air","x":11.16,"y":55},{"s":"air","x":11.20,"y":58},{"s":"air","x":11.24,"y":54},{"s":"air","x":11.28,"y":51},{"s":"air","x":11.32,"y":55},{"s":"air","x":11.36,"y":57},{"s":"air","x":11.40,"y":53},{"s":"air","x":11.44,"y":56},{"s":"air","x":11.48,"y":59},{"s":"air","x":11.52,"y":55},{"s":"air","x":11.56,"y":52},{"s":"air","x":11.60,"y":54},{"s":"air","x":11.64,"y":57},{"s":"air","x":11.68,"y":53},{"s":"air","x":11.72,"y":55},{"s":"air","x":11.76,"y":52},{"s":"air","x":11.80,"y":54},{"s":"air","x":11.84,"y":56},{"s":"air","x":11.88,"y":53},{"s":"air","x":11.92,"y":57},{"s":"air","x":11.96,"y":54},{"s":"air","x":12.00,"y":56},{"s":"air","x":12.04,"y":53},{"s":"air","x":12.08,"y":55},{"s":"air","x":12.12,"y":57},{"s":"air","x":12.16,"y":54},{"s":"air","x":12.20,"y":52},{"s":"air","x":12.24,"y":55},{"s":"air","x":12.28,"y":57},{"s":"air","x":12.32,"y":54},{"s":"air","x":12.36,"y":56},{"s":"air","x":12.40,"y":55},{"s":"air","x":12.44,"y":57},{"s":"air","x":12.48,"y":56},{"s":"air","x":12.52,"y":58},{"s":"air","x":12.56,"y":62},{"s":"air","x":12.60,"y":70},{"s":"air","x":12.63,"y":76},{"s":"air","x":12.67,"y":94},{"s":"air","x":12.71,"y":112},{"s":"air","x":12.74,"y":122},{"s":"air","x":12.77,"y":112},{"s":"air","x":12.80,"y":92},{"s":"air","x":12.84,"y":72},{"s":"air","x":12.88,"y":62},{"s":"air","x":12.92,"y":57},{"s":"air","x":12.96,"y":55},{"s":"air","x":13.00,"y":58},{"s":"air","x":13.04,"y":54},{"s":"air","x":13.08,"y":56},{"s":"air","x":13.12,"y":53},{"s":"air","x":13.16,"y":57},{"s":"air","x":13.20,"y":55},{"s":"air","x":13.24,"y":52},{"s":"air","x":13.28,"y":56},{"s":"air","x":13.32,"y":54},{"s":"air","x":13.36,"y":58},{"s":"air","x":13.40,"y":53},{"s":"air","x":13.44,"y":55},{"s":"air","x":13.48,"y":52},{"s":"air","x":13.52,"y":56},{"s":"air","x":13.56,"y":54},{"s":"air","x":13.60,"y":57},{"s":"air","x":13.64,"y":52},{"s":"air","x":13.68,"y":55},{"s":"air","x":13.72,"y":53},{"s":"air","x":13.76,"y":57},{"s":"air","x":13.80,"y":54},{"s":"air","x":13.84,"y":51},{"s":"air","x":13.88,"y":55},{"s":"air","x":13.92,"y":53},{"s":"air","x":13.96,"y":57},{"s":"air","x":14.00,"y":54},

      {"s":"Ar","x":11.00,"y":26},{"s":"Ar","x":11.04,"y":23},{"s":"Ar","x":11.08,"y":27},{"s":"Ar","x":11.12,"y":24},{"s":"Ar","x":11.16,"y":26},{"s":"Ar","x":11.20,"y":22},{"s":"Ar","x":11.24,"y":25},{"s":"Ar","x":11.28,"y":27},{"s":"Ar","x":11.32,"y":24},{"s":"Ar","x":11.36,"y":22},{"s":"Ar","x":11.40,"y":26},{"s":"Ar","x":11.44,"y":28},{"s":"Ar","x":11.48,"y":24},{"s":"Ar","x":11.52,"y":25},{"s":"Ar","x":11.56,"y":22},{"s":"Ar","x":11.60,"y":24},{"s":"Ar","x":11.64,"y":26},{"s":"Ar","x":11.68,"y":23},{"s":"Ar","x":11.72,"y":27},{"s":"Ar","x":11.76,"y":24},{"s":"Ar","x":11.80,"y":22},{"s":"Ar","x":11.84,"y":25},{"s":"Ar","x":11.88,"y":27},{"s":"Ar","x":11.92,"y":24},{"s":"Ar","x":11.96,"y":26},{"s":"Ar","x":12.00,"y":23},{"s":"Ar","x":12.04,"y":25},{"s":"Ar","x":12.08,"y":27},{"s":"Ar","x":12.12,"y":24},{"s":"Ar","x":12.16,"y":22},{"s":"Ar","x":12.20,"y":25},{"s":"Ar","x":12.24,"y":27},{"s":"Ar","x":12.28,"y":24},{"s":"Ar","x":12.32,"y":26},{"s":"Ar","x":12.36,"y":23},{"s":"Ar","x":12.40,"y":25},{"s":"Ar","x":12.44,"y":26},{"s":"Ar","x":12.48,"y":24},{"s":"Ar","x":12.52,"y":27},{"s":"Ar","x":12.56,"y":25},{"s":"Ar","x":12.60,"y":28},{"s":"Ar","x":12.64,"y":26},{"s":"Ar","x":12.68,"y":30},{"s":"Ar","x":12.72,"y":28},{"s":"Ar","x":12.76,"y":32},{"s":"Ar","x":12.80,"y":35},{"s":"Ar","x":12.84,"y":37},{"s":"Ar","x":12.88,"y":39},{"s":"Ar","x":12.92,"y":40},{"s":"Ar","x":12.95,"y":42},{"s":"Ar","x":12.98,"y":43},{"s":"Ar","x":13.01,"y":40},{"s":"Ar","x":13.04,"y":38},{"s":"Ar","x":13.08,"y":36},{"s":"Ar","x":13.12,"y":37},{"s":"Ar","x":13.16,"y":34},{"s":"Ar","x":13.20,"y":35},{"s":"Ar","x":13.24,"y":31},{"s":"Ar","x":13.28,"y":28},{"s":"Ar","x":13.32,"y":26},{"s":"Ar","x":13.36,"y":24},{"s":"Ar","x":13.40,"y":26},{"s":"Ar","x":13.44,"y":23},{"s":"Ar","x":13.48,"y":25},{"s":"Ar","x":13.52,"y":22},{"s":"Ar","x":13.56,"y":24},{"s":"Ar","x":13.60,"y":26},{"s":"Ar","x":13.64,"y":23},{"s":"Ar","x":13.68,"y":25},{"s":"Ar","x":13.72,"y":24},{"s":"Ar","x":13.76,"y":22},{"s":"Ar","x":13.80,"y":25},{"s":"Ar","x":13.84,"y":23},{"s":"Ar","x":13.88,"y":26},{"s":"Ar","x":13.92,"y":24},{"s":"Ar","x":13.96,"y":27},{"s":"Ar","x":14.00,"y":25}
    ],
    "peaks": [
      {"s": "K", "x": 12.62, "top": 231, "base": 0},
      {"s": "air", "x": 12.74, "top": 122, "base": 0},
      {"s": "Ar", "x": 12.98, "top": 43, "base": 0}
    ],
    "insetLabels": [
      {"label": "KFM", "s": "K", "x": 11.81, "y": 108},
      {"label": "Ash cooled down in air", "s": "air", "x": 11.81, "y": 71},
      {"label": "Ash cooled down in Ar", "s": "Ar", "x": 11.82, "y": 36}
    ]
  },
  "layer": [
    {
      "layer": [
        {
          "data": {"name": "xrd"},
          "mark": {"type": "line", "strokeWidth": 1.6, "strokeJoin": "round"},
          "encoding": {
            "x": {
              "field": "x", "type": "quantitative",
              "scale": {"domain": [10.1, 88.73], "nice": false, "zero": false},
              "axis": {
                "orient": "bottom",
                "values": [20, 40, 60, 80],
                "labelOverlap": false,
                "labelFlush": false,
                "domainColor": "black", "domainWidth": 4.5, "domainCap": "square",
                "tickColor": "black", "tickWidth": 3.5, "tickCap": "round", "tickSize": 14,
                "labelFontSize": 32, "labelFontWeight": "bold", "labelColor": "black",
                "labelBaseline": "alphabetic", "labelPadding": 35,
                "title": "2θ\u00a0 (deg.)",
                "titleFontSize": 42, "titleFontWeight": "bold", "titleColor": "black",
                "titleBaseline": "alphabetic", "titleAlign": "center",
                "titleX": 400, "titleY": 111
              }
            },
            "y": {
              "field": "y", "type": "quantitative",
              "scale": {"domain": [0, 589], "nice": false, "zero": false},
              "axis": {
                "orient": "left",
                "domainColor": "black", "domainWidth": 4.5, "domainCap": "square",
                "ticks": false, "labels": false,
                "title": "Intensity (a.u.)",
                "titleFontSize": 44, "titleFontWeight": "bold", "titleColor": "black",
                "titleAngle": 270, "titleBaseline": "alphabetic", "titleAlign": "center",
                "titleX": -56, "titleY": 317
              }
            },
            "color": {
              "field": "s", "type": "nominal",
              "scale": {"domain": ["K", "air", "Ar"], "range": ["#000000", "#ff0000", "#0000ff"]},
              "legend": null
            }
          }
        },
        {
          "data": {"name": "mainLabels"},
          "transform": [{"filter": "datum.s !== 'K'"}],
          "mark": {"type": "text", "fontWeight": "bold", "align": "center", "baseline": "alphabetic", "fontSize": 29},
          "encoding": {
            "x": {
              "field": "x", "type": "quantitative",
              "axis": {
                "orient": "bottom", "values": [30, 50, 70],
                "domain": false, "labels": false, "title": null,
                "tickColor": "black", "tickWidth": 3.5, "tickCap": "round", "tickSize": 8
              }
            },
            "y": {"field": "y", "type": "quantitative"},
            "text": {"field": "label", "type": "nominal"},
            "color": {"field": "s", "type": "nominal", "legend": null}
          }
        },
        {
          "data": {"name": "mainLabels"},
          "transform": [{"filter": "datum.s === 'K'"}],
          "mark": {"type": "text", "fontWeight": "bold", "align": "center", "baseline": "alphabetic", "fontSize": 34},
          "encoding": {
            "x": {
              "field": "x", "type": "quantitative",
              "axis": {
                "orient": "top", "ticks": false, "labels": false, "title": null,
                "domainColor": "black", "domainWidth": 5, "domainCap": "square"
              }
            },
            "y": {"field": "y", "type": "quantitative"},
            "text": {"field": "label", "type": "nominal"},
            "color": {"field": "s", "type": "nominal", "legend": null}
          }
        }
      ],
      "resolve": {"axis": {"x": "independent"}}
    },
    {
      "layer": [
        {
          "data": {"name": "inset"},
          "mark": {"type": "line", "strokeWidth": 1.9, "strokeJoin": "round"},
          "encoding": {
            "x": {
              "field": "x", "type": "quantitative",
              "scale": {"domain": [11, 14], "range": [450.7, 780], "nice": false, "zero": false},
              "axis": {
                "orient": "bottom", "offset": -336,
                "values": [11, 12, 13, 14],
                "labelOverlap": false, "labelFlush": false,
                "domainColor": "#222222", "domainWidth": 1.3,
                "tickColor": "#222222", "tickWidth": 1.2, "tickSize": 5,
                "labelFontSize": 15, "labelFontWeight": "bold", "labelColor": "black",
                "labelBaseline": "alphabetic", "labelPadding": 17,
                "title": "2θ\u00a0 (deg.)",
                "titleFontSize": 14, "titleFontWeight": "bold", "titleColor": "black",
                "titleBaseline": "alphabetic", "titleAlign": "center",
                "titleX": 615, "titleY": 41
              }
            },
            "y": {
              "field": "y", "type": "quantitative",
              "scale": {"domain": [0, 242], "range": [253, 11], "nice": false, "zero": false},
              "axis": {
                "orient": "left", "offset": -450.7,
                "domainColor": "#222222", "domainWidth": 1.3,
                "ticks": false, "labels": false,
                "title": "Intensity (a.u.)",
                "titleFontSize": 14, "titleFontWeight": "bold", "titleColor": "black",
                "titleAngle": 270, "titleBaseline": "alphabetic", "titleAlign": "center",
                "titleX": -26, "titleY": 132
              }
            },
            "color": {"field": "s", "type": "nominal", "legend": null}
          }
        },
        {
          "data": {"name": "peaks"},
          "mark": {"type": "rule", "strokeWidth": 1.8, "strokeDash": [3, 2.5]},
          "encoding": {
            "x": {
              "field": "x", "type": "quantitative",
              "axis": {
                "orient": "bottom", "offset": -336, "values": [11.5, 12.5, 13.5],
                "domain": false, "labels": false, "title": null,
                "tickColor": "#222222", "tickWidth": 1.2, "tickSize": 3
              }
            },
            "y": {
              "field": "top", "type": "quantitative",
              "axis": {
                "orient": "right", "offset": -11,
                "domainColor": "#222222", "domainWidth": 1.3,
                "ticks": false, "labels": false, "title": null
              }
            },
            "y2": {"field": "base"},
            "color": {"field": "s", "type": "nominal", "legend": null}
          }
        },
        {
          "data": {"name": "insetLabels"},
          "transform": [{"filter": "datum.s !== 'K'"}],
          "mark": {"type": "text", "fontWeight": "bold", "align": "center", "baseline": "alphabetic", "fontSize": 12},
          "encoding": {
            "x": {
              "field": "x", "type": "quantitative",
              "axis": {
                "orient": "top", "offset": -11,
                "domainColor": "#222222", "domainWidth": 1.3,
                "ticks": false, "labels": false, "title": null
              }
            },
            "y": {"field": "y", "type": "quantitative", "axis": null},
            "text": {"field": "label", "type": "nominal"},
            "color": {"field": "s", "type": "nominal", "legend": null}
          }
        },
        {
          "data": {"name": "insetLabels"},
          "transform": [{"filter": "datum.s === 'K'"}],
          "mark": {"type": "text", "fontWeight": "bold", "align": "center", "baseline": "alphabetic", "fontSize": 14},
          "encoding": {
            "x": {"field": "x", "type": "quantitative", "axis": null},
            "y": {"field": "y", "type": "quantitative", "axis": null},
            "text": {"field": "label", "type": "nominal"},
            "color": {"field": "s", "type": "nominal", "legend": null}
          }
        }
      ],
      "resolve": {"axis": {"x": "independent", "y": "independent"}}
    }
  ],
  "resolve": {
    "scale": {"x": "independent", "y": "independent"},
    "axis": {"x": "independent", "y": "independent"}
  }
}
